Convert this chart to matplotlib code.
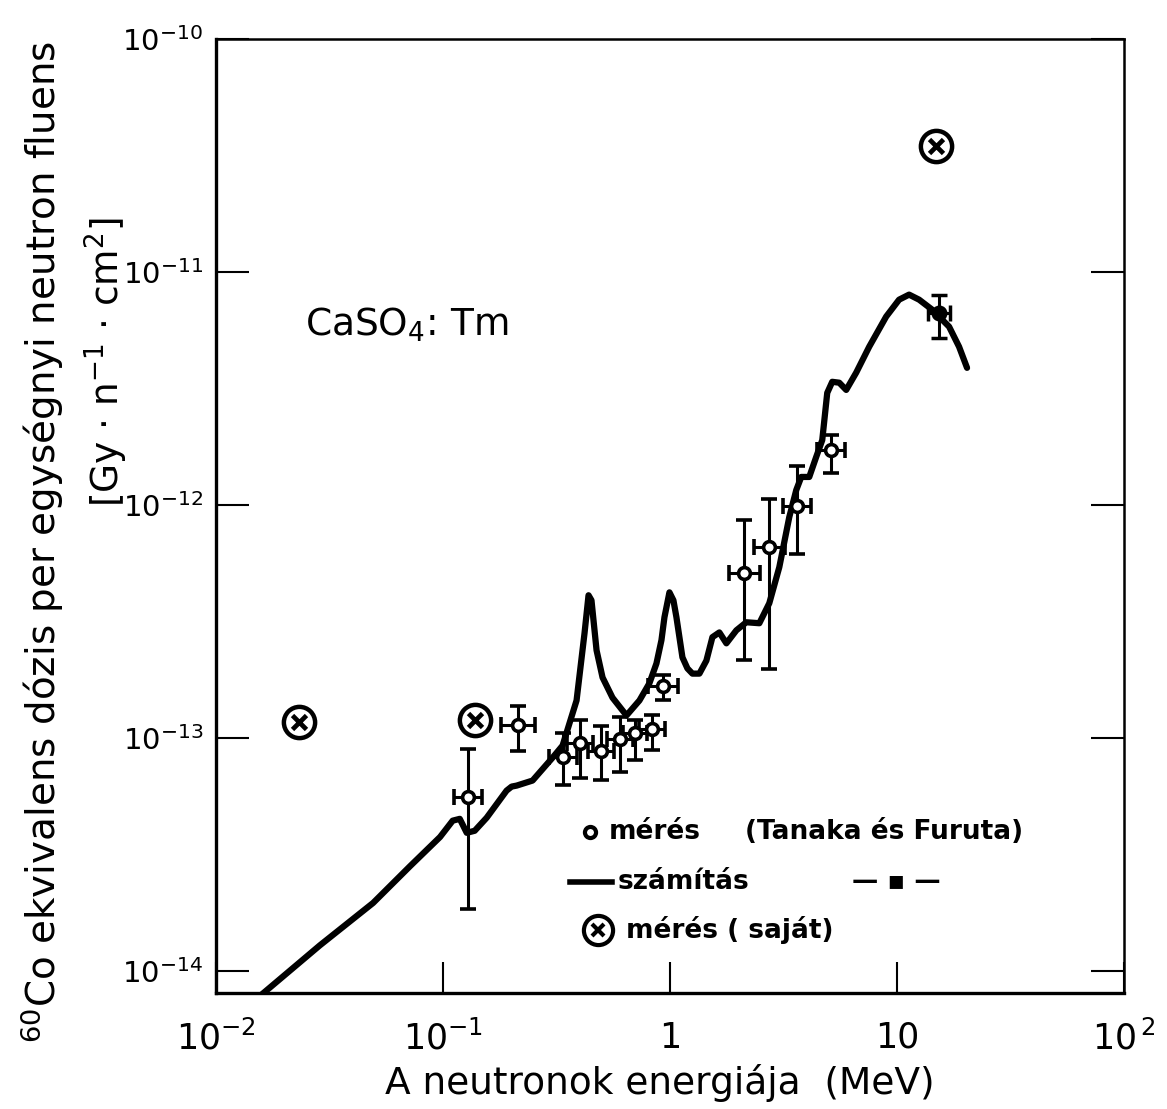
import matplotlib
matplotlib.use("Agg")
import matplotlib.pyplot as plt
import numpy as np

# ---- data ----
# calculated curve (számítás)
calc_E = [0.01485, 0.0287, 0.0492, 0.0716, 0.0970, 0.1103, 0.1185, 0.1272, 0.1379, 0.1557,
          0.1906, 0.2006, 0.2110, 0.2480, 0.3039, 0.3362, 0.3875, 0.4201, 0.4375, 0.4508,
          0.4746, 0.5043, 0.5579, 0.6429, 0.7334, 0.8116, 0.8713, 0.9166, 0.9450, 0.994,
          1.035, 1.067, 1.134, 1.193, 1.255, 1.347, 1.446, 1.537, 1.649, 1.771,
          1.960, 2.168, 2.474, 2.737, 3.029, 3.352, 3.598, 3.785, 4.105, 4.406,
          4.683, 4.926, 5.182, 5.564, 5.971, 6.608, 7.540, 8.958, 10.21, 11.30,
          12.51, 14.27, 16.95, 18.76, 20.34]
calc_D = [7.5e-15, 1.29e-14, 1.96e-14, 2.82e-14, 3.76e-14, 4.42e-14, 4.50e-14, 3.92e-14, 4.00e-14, 4.55e-14,
          5.95e-14, 6.19e-14, 6.25e-14, 6.57e-14, 8.24e-14, 9.28e-14, 1.45e-13, 2.82e-13, 4.10e-13, 3.90e-13,
          2.38e-13, 1.82e-13, 1.49e-13, 1.25e-13, 1.45e-13, 1.72e-13, 2.09e-13, 2.63e-13, 3.30e-13, 4.22e-13,
          3.90e-13, 3.30e-13, 2.22e-13, 1.99e-13, 1.89e-13, 1.89e-13, 2.15e-13, 2.71e-13, 2.84e-13, 2.55e-13,
          2.90e-13, 3.14e-13, 3.11e-13, 3.79e-13, 5.41e-13, 8.88e-13, 1.16e-12, 1.32e-12, 1.32e-12, 1.61e-12,
          1.90e-12, 3.03e-12, 3.38e-12, 3.35e-12, 3.12e-12, 3.70e-12, 4.78e-12, 6.44e-12, 7.61e-12, 8.00e-12,
          7.61e-12, 6.90e-12, 5.83e-12, 4.78e-12, 3.88e-12]

# measurement (Tanaka és Furuta)
tanaka_E = [0.1288, 0.214, 0.338, 0.401, 0.497, 0.602, 0.701, 0.833, 0.931, 2.12, 2.73, 3.62, 5.12]
tanaka_D = [5.58e-14, 1.14e-13, 8.28e-14, 9.52e-14, 8.80e-14, 9.90e-14, 1.05e-13, 1.09e-13, 1.67e-13,
            5.11e-13, 6.60e-13, 9.90e-13, 1.72e-12]
tanaka_D_lo = [1.85e-14, 8.8e-14, 6.29e-14, 6.73e-14, 6.60e-14, 7.15e-14, 8.05e-14, 8.88e-14, 1.46e-13,
               2.16e-13, 1.98e-13, 6.16e-13, 1.37e-12]
tanaka_D_hi = [8.97e-14, 1.37e-13, 1.05e-13, 1.19e-13, 1.13e-13, 1.23e-13, 1.19e-13, 1.26e-13, 1.86e-13,
               8.62e-13, 1.06e-12, 1.47e-12, 2.00e-12]
tanaka_E_fac = [1.15, 1.19, 1.15, 1.14, 1.14, 1.14, 1.13, 1.14, 1.16, 1.17, 1.17, 1.15, 1.15]

# filled measurement at 15 MeV
hi_E = [15.3]
hi_D = [6.67e-12]
hi_D_lo = [5.21e-12]
hi_D_hi = [7.97e-12]
hi_E_fac = [1.12]

# own measurement (saját)
own_E = [0.0232, 0.138, 14.9]
own_D = [1.17e-13, 1.19e-13, 3.48e-11]

x_ticks = [1e-2, 1e-1, 1, 10, 100]
x_ticklabels = [r"$10^{-2}$", r"$10^{-1}$", "1", "10", r"$10^{\,2}$"]
y_ticks = [1e-14, 1e-13, 1e-12, 1e-11, 1e-10]
y_ticklabels = [r"$10^{-14}$", r"$10^{-13}$", r"$10^{-12}$", r"$10^{-11}$", r"$10^{-10}$"]

# ---- figure ----
plt.rcParams['font.family'] = ['DejaVu Sans']
plt.rcParams['mathtext.fontset'] = 'dejavusans'
fig = plt.figure(figsize=(11.67, 11.09), dpi=100)
ax = fig.add_axes([0.1851, 0.1046, 0.7781, 0.8602])
ax.set_xscale('log')
ax.set_yscale('log')
ax.set_xlim(1e-2, 1e2)
ax.set_ylim(8.05e-15, 1e-10)

ax.plot(calc_E, calc_D, color='black', lw=4.5, solid_capstyle='round', solid_joinstyle='round', zorder=2)

def xerr(E, fac):
    E = np.array(E); f = np.array(fac)
    return [E - E / f, E * f - E]

def yerr(D, lo, hi):
    D = np.array(D)
    return [D - np.array(lo), np.array(hi) - D]

ax.errorbar(tanaka_E, tanaka_D, yerr=yerr(tanaka_D, tanaka_D_lo, tanaka_D_hi),
            xerr=xerr(tanaka_E, tanaka_E_fac), fmt='o', ms=8.5, mfc='white', mec='black', mew=2.6,
            ecolor='black', elinewidth=2.2, capsize=6, capthick=2.2, zorder=4)
ax.errorbar(hi_E, hi_D, yerr=yerr(hi_D, hi_D_lo, hi_D_hi),
            xerr=xerr(hi_E, hi_E_fac), fmt='o', ms=9, mfc='black', mec='black', mew=2.5,
            ecolor='black', elinewidth=2.2, capsize=6, capthick=2.2, zorder=4)

ax.plot(own_E, own_D, 'o', ms=22.5, mfc='white', mec='black', mew=3.2, zorder=5)
ax.plot(own_E, own_D, 'x', ms=9.5, mec='black', mew=3.4, zorder=6)

# axes styling
for s in ['left', 'bottom']:
    ax.spines[s].set_linewidth(2.4)
for s in ['right', 'top']:
    ax.spines[s].set_linewidth(1.8)
ax.minorticks_off()
ax.set_xticks(x_ticks)
ax.set_xticklabels(x_ticklabels)
ax.set_yticks(y_ticks)
ax.set_yticklabels(y_ticklabels)
ax.tick_params(axis='x', which='major', direction='in', length=22, width=1.5,
               top=False, bottom=True, labelsize=25, pad=20)
ax.tick_params(axis='y', which='major', direction='in', length=24, width=1.5,
               left=True, right=True, labelsize=21, pad=9)

# texts
ax.text(0.0247, 5.93e-12, r"CaSO$_4$: Tm", fontsize=27, ha='left', va='center')

fig.text(0.5656, 0.0234, "A neutronok energiája  (MeV)", fontsize=27, ha='center', va='center')
fig.text(42 / 1167, 1 - 542 / 1109, r"$^{60}$Co ekvivalens dózis per egységnyi neutron fluens",
         fontsize=28, rotation=90, ha='center', va='center')
fig.text(106 / 1167, 1 - 362 / 1109, r"[Gy $\cdot$ n$^{-1}$ $\cdot$ cm$^{2}$]",
         fontsize=27, rotation=90, ha='center', va='center')

# legend drawn manually
tr = ax.transAxes
ax.plot([0.412], [0.169], 'o', ms=8, mfc='white', mec='black', mew=3, transform=tr, clip_on=False)
ax.text(0.432, 0.169, "mérés", fontsize=19, fontweight='bold', ha='left', va='center', transform=tr)
ax.text(0.583, 0.169, "(Tanaka és Furuta)", fontsize=19, fontweight='bold', ha='left', va='center', transform=tr)
ax.plot([0.390, 0.436], [0.116, 0.116], color='black', lw=4, transform=tr, clip_on=False)
ax.text(0.442, 0.116, "számítás", fontsize=19, fontweight='bold', ha='left', va='center', transform=tr)
ax.text(0.700, 0.116, "— ▪ —", fontsize=19, fontweight='bold', ha='left', va='center', transform=tr)
ax.plot([0.421], [0.066], 'o', ms=21, mfc='white', mec='black', mew=3, transform=tr, clip_on=False)
ax.plot([0.421], [0.066], 'x', ms=8, mec='black', mew=3, transform=tr, clip_on=False)
ax.text(0.452, 0.066, "mérés ( saját)", fontsize=19, fontweight='bold', ha='left', va='center', transform=tr)

fig.savefig("out.png", dpi=100)
